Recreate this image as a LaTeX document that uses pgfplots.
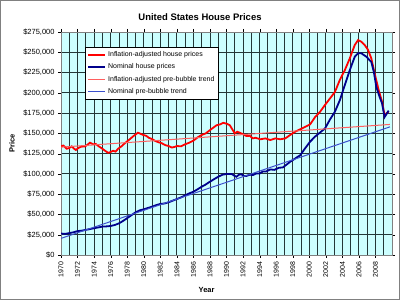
\documentclass[border=0pt]{standalone}
\usepackage{fontspec}
\setmainfont{Liberation Sans}
\usepackage{pgfplots}
\pgfplotsset{compat=1.18}

\definecolor{plotbg}{RGB}{204,255,255}
\definecolor{gridc}{RGB}{35,55,55}
\definecolor{realc}{RGB}{255,0,0}
\definecolor{nomc}{RGB}{0,0,140}
\definecolor{realtrend}{RGB}{255,95,95}
\definecolor{nomtrend}{RGB}{60,80,205}

\begin{document}
\begin{tikzpicture}
\useasboundingbox (0,0) rectangle (400bp,300bp);
\draw[gray, line width=1bp] (0.5bp,0.5bp) rectangle (399.5bp,299.5bp);
\node[font=\fontsize{9.5}{11}\selectfont\bfseries] at (200bp,283bp) {United States House Prices};
\begin{axis}[
  at={(61bp,45bp)}, anchor=south west,
  scale only axis, width=331bp, height=223bp,
  xmin=1970, xmax=2010, ymin=0, ymax=275,
  axis background/.style={fill=plotbg},
  axis line style={gray},
  xtick={1970,1972,...,2008},
  minor xtick={1971,1973,...,2009},
  ytick={0,25,...,275},
  yticklabels={{\$0},{\$25,000},{\$50,000},{\$75,000},{\$100,000},{\$125,000},{\$150,000},{\$175,000},{\$200,000},{\$225,000},{\$250,000},{\$275,000}},
  /pgf/number format/assume math mode=true,
  /pgf/number format/1000 sep={},
  grid=both,
  major grid style={gridc, line width=0.85bp},
  minor grid style={gridc, line width=0.85bp},
  tick align=outside,
  major tick length=3bp, minor tick length=0bp,
  tick style={black},
  x tick label style={rotate=90, anchor=east, font=\fontsize{7}{8}\selectfont},
  y tick label style={font=\fontsize{7.5}{9}\selectfont},
  xlabel={\textbf{Year}},
  ylabel={\textbf{Price}},
  xlabel style={at={(axis description cs:0.44,-0.157)}, anchor=center, font=\fontsize{7.5}{9}\selectfont},
  ylabel style={at={(axis description cs:-0.148,0.5)}, anchor=center, rotate=0, font=\fontsize{7.5}{9}\selectfont},
  legend style={at={(axis description cs:0.0725,0.933)}, anchor=north west,
    font=\fontsize{7}{8}\selectfont, draw=black, fill=white,
    row sep=1.8bp, inner sep=2.2bp},
  legend cell align=left,
]
% inflation-adjusted prices (thousands of dollars)
\addplot[realc, line width=1.8bp] coordinates {
(1970.0,134) (1970.3,135) (1970.7,131) (1971.0,132) (1971.3,134) (1971.6,131)
(1971.8,129.5) (1972.1,132) (1972.4,133.5) (1972.9,134) (1973.2,136) (1973.5,138.5)
(1973.9,136.5) (1974.2,137) (1974.5,134.5) (1975.0,131) (1975.4,128) (1975.7,126)
(1976.0,127) (1976.3,128.5) (1976.6,127.5) (1976.9,131) (1977.3,134) (1977.7,137.7)
(1978.3,142.7) (1978.8,147) (1979.3,150.8) (1979.6,149.5) (1979.95,148) (1980.3,147)
(1980.6,144.6) (1981.0,143) (1981.4,140.6) (1981.8,139) (1982.2,137.7) (1982.6,135.5)
(1983.0,134.4) (1983.4,132.5) (1983.8,133.5) (1984.0,134.4) (1984.5,134) (1985.0,136.5)
(1985.5,138.5) (1986.0,141) (1986.5,145) (1987.0,148) (1987.5,150) (1988.0,154)
(1988.4,157) (1988.8,160) (1989.2,161) (1989.6,163) (1990.0,162) (1990.4,160)
(1990.7,155) (1991.0,150) (1991.3,152) (1991.6,150.8) (1992.0,149) (1992.4,146.7)
(1992.8,147) (1993.2,143.8) (1993.5,144.6) (1994.1,142.7) (1994.7,143.8) (1995.3,141.8)
(1995.9,143.8) (1996.5,142.7) (1997.1,143.8) (1997.7,148) (1998.3,152) (1998.9,155)
(1999.5,158) (2000.1,161) (2000.7,170) (2001.3,176.5) (2001.9,185) (2002.5,193)
(2003.1,201) (2003.7,216) (2004.3,228) (2004.9,242.5) (2005.5,259) (2005.9,265)
(2006.3,263) (2006.7,259) (2007.1,253) (2007.5,242.5) (2007.9,224) (2008.4,203)
(2008.8,189) (2009.1,172.6) (2009.6,177)
};
\addlegendentry{Inflation-adjusted house prices}
% nominal prices (thousands of dollars)
\addplot[nomc, line width=1.8bp] coordinates {
(1970.0,26.5) (1970.5,26) (1971.0,27) (1971.5,28) (1972.0,29.5) (1972.5,30)
(1973.0,31) (1973.5,32) (1974.0,33) (1974.5,34) (1975.0,35) (1975.5,35.3)
(1976.0,35.8) (1976.5,37) (1977.0,39) (1977.5,42) (1978.0,45.5) (1978.5,49)
(1979.0,52.6) (1979.5,55) (1980.0,56.3) (1980.5,58) (1981.0,59.6) (1981.5,61.5)
(1982.0,63) (1982.5,63.5) (1983.0,65) (1983.5,67) (1984.0,69) (1984.5,71)
(1985.0,73.5) (1985.5,76) (1986.0,78) (1986.5,81) (1987.0,84.2) (1987.5,87)
(1988.0,90.4) (1988.5,93.5) (1989.0,96.5) (1989.5,99) (1990.0,99.9) (1990.6,100)
(1991.0,97.5) (1991.2,96.5) (1991.5,99) (1991.8,99.5) (1992.1,97.5) (1992.4,97.4)
(1992.8,99) (1993.2,98.6) (1993.6,100.5) (1994.0,100.5) (1994.4,103) (1994.8,103)
(1995.3,105.5) (1995.8,105) (1996.3,107.5) (1996.8,108) (1997.2,111) (1997.7,115)
(1998.3,119) (1998.9,123) (1999.5,131.6) (2000.1,139.7) (2000.7,146) (2001.3,151)
(2001.9,156) (2002.5,167) (2003.1,176.7) (2003.7,191) (2004.3,209.6) (2004.9,228)
(2005.5,244.5) (2005.9,248.7) (2006.3,248.7) (2006.9,244.5) (2007.5,238) (2007.8,226)
(2008.1,207.5) (2008.5,195) (2008.8,187) (2009.1,170) (2009.6,178)
};
\addlegendentry{Nominal house prices}
% linear trends fitted before the bubble
\addplot[realtrend, line width=1bp] coordinates {(1970,133) (2009.75,161)};
\addlegendentry{Inflation-adjusted pre-bubble trend}
\addplot[nomtrend, line width=1bp] coordinates {(1970,20.5) (2009.75,158)};
\addlegendentry{Nominal pre-bubble trend}
\end{axis}
\end{tikzpicture}
\end{document}
